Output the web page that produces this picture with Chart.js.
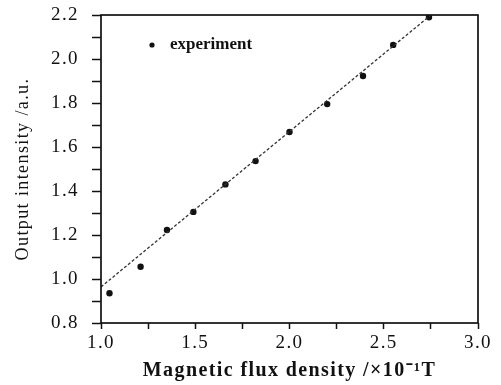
<!DOCTYPE html>
<html>
<head>
<meta charset="utf-8">
<script src="https://cdn.jsdelivr.net/npm/chart.js@4.4.0/dist/chart.umd.min.js"></script>
<style>
  html, body { margin: 0; padding: 0; background: #fff; }
  #wrap { width: 501px; height: 385px; position: relative; }
</style>
</head>
<body>
<div id="wrap"><canvas id="chart"></canvas></div>
<script>
const fluxDensity = [1.045, 1.21, 1.35, 1.49, 1.66, 1.82, 2.0, 2.2, 2.39, 2.55, 2.74];
const outputIntensity = [0.935, 1.056, 1.223, 1.305, 1.43, 1.536, 1.668, 1.795, 1.923, 2.064, 2.19];

// fitted straight line end points
const fitX = [1.0, 2.75];
const fitY = [0.964, 2.2];

const xTickLabels = ['1.0', '1.5', '2.0', '2.5', '3.0'];
const yTickLabels = ['0.8', '1.0', '1.2', '1.4', '1.6', '1.8', '2.0', '2.2'];

const legendLabel = 'experiment';
const serif = '"Liberation Serif", "Times New Roman", serif';
const ink = '#111';

// wide letter spacing like the scanned figure
const spacingPlugin = {
  id: 'spacing',
  beforeDraw(chart) { chart.ctx.letterSpacing = '1.4px'; },
  afterDraw(chart) { chart.ctx.letterSpacing = '0px'; }
};

// frame box + legend inside the plot
const framePlugin = {
  id: 'frame',
  afterDraw(chart) {
    const { ctx, chartArea: a } = chart;
    ctx.save();
    ctx.strokeStyle = ink;
    ctx.lineWidth = 1.7;
    ctx.strokeRect(a.left, a.top, a.right - a.left, a.bottom - a.top);

    // legend
    const lx = a.left + 51, ly = a.top + 30;
    ctx.fillStyle = ink;
    ctx.beginPath();
    ctx.arc(lx, ly, 2.6, 0, Math.PI * 2);
    ctx.fill();
    ctx.font = 'bold 17px ' + serif;
    ctx.textBaseline = 'middle';
    ctx.fillText(legendLabel, lx + 18, ly);
    ctx.restore();
  }
};

const pairs = (xs, ys) => xs.map((x, i) => ({ x: x, y: ys[i] }));

new Chart(document.getElementById('chart'), {
  type: 'scatter',
  data: {
    datasets: [
      {
        label: 'fit',
        data: pairs(fitX, fitY),
        showLine: true,
        borderColor: '#333',
        borderWidth: 1.3,
        borderDash: [3, 2],
        pointRadius: 0,
        fill: false
      },
      {
        label: legendLabel,
        data: pairs(fluxDensity, outputIntensity),
        backgroundColor: ink,
        borderColor: ink,
        pointRadius: 3.2,
        pointBorderWidth: 0
      }
    ]
  },
  options: {
    responsive: true,
    maintainAspectRatio: false,
    animation: false,
    layout: { padding: { left: 6, right: 23, top: 15, bottom: 2 } },
    plugins: {
      legend: { display: false },
      tooltip: { enabled: false }
    },
    scales: {
      x: {
        type: 'linear',
        min: 1.0,
        max: 3.0,
        afterFit(scale) {
          scale.height = 60;
          scale.paddingLeft = 0;
          scale.paddingRight = 0;
        },
        border: { display: false },
        grid: { drawOnChartArea: false, drawTicks: true, tickLength: 6, tickWidth: 1.5, tickColor: ink },
        ticks: {
          stepSize: 0.25,
          autoSkip: false,
          maxRotation: 0,
          padding: 3,
          color: ink,
          font: { family: serif, size: 19 },
          callback(v) {
            const s = v.toFixed(1);
            return (Math.abs(v * 2 - Math.round(v * 2)) < 1e-6 && xTickLabels.includes(s)) ? s : '';
          }
        },
        title: {
          display: true,
          text: 'Magnetic flux density /×10⁻¹T',
          color: ink,
          font: { family: serif, size: 20, weight: 'bold' },
          padding: { top: 3, bottom: 0 }
        }
      },
      y: {
        type: 'linear',
        min: 0.8,
        max: 2.2,
        afterFit(scale) {
          scale.width = 95;
          scale.paddingTop = 0;
          scale.paddingBottom = 0;
        },
        border: { display: false },
        grid: { drawOnChartArea: false, drawTicks: true, tickLength: 9, tickWidth: 1.5, tickColor: ink },
        ticks: {
          stepSize: 0.1,
          autoSkip: false,
          padding: 13,
          color: ink,
          font: { family: serif, size: 19 },
          callback(v) {
            const s = v.toFixed(1);
            return (Math.round(v * 10) % 2 === 0 && yTickLabels.includes(s)) ? s : '';
          }
        },
        title: {
          display: true,
          text: 'Output intensity /a.u.',
          color: ink,
          font: { family: serif, size: 18 },
          padding: { top: 6, bottom: 0 }
        }
      }
    }
  },
  plugins: [spacingPlugin, framePlugin]
});
</script>
</body>
</html>
